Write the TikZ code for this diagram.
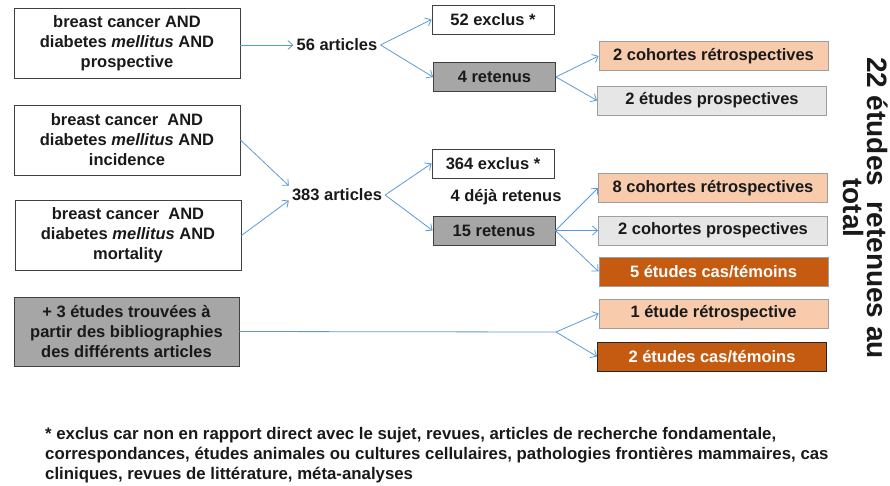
\documentclass[tikz,border=0pt]{standalone}
\usepackage{fontspec}
\setmainfont{Liberation Sans}
\usetikzlibrary{calc, arrows.meta, positioning}
\definecolor{peach}{RGB}{248,203,173}
\definecolor{lightbox}{RGB}{231,230,230}
\definecolor{rust}{RGB}{197,90,17}
\definecolor{midgray}{RGB}{166,166,166}
\definecolor{linkblue}{RGB}{91,155,213}
\definecolor{edge}{RGB}{64,64,64}

\begin{document}
\begin{tikzpicture}[x=1pt,y=-1pt,->,>={Straight Barb[length=5pt,width=9pt]},
every node/.style={font=\fontsize{16.5}{20}\selectfont\bfseries,text=black!90,align=center},
query/.style={draw=edge,line width=0.9pt,minimum width=226pt,minimum height=70pt,inner sep=0pt},
count/.style={inner sep=3pt},
result/.style={draw=edge,line width=0.9pt,minimum width=122pt,minimum height=29pt,inner sep=0pt},
kind/.style={draw=gray!75,line width=0.9pt,minimum width=229pt,minimum height=29pt,inner sep=0pt},
link/.style={draw=linkblue,line width=0.8pt}
]
\useasboundingbox (0,0) rectangle (890,485);

\node[query] (nProsp) at (127,43) {breast cancer AND\\ diabetes \textit{mellitus} AND\\ prospective};
\node[query] (nIncid) at (127,140) {breast cancer\ \ AND\\ diabetes \textit{mellitus} AND\\ incidence};
\node[query] (nMort) at (128,235.5) {breast cancer\ \ AND\\ diabetes \textit{mellitus} AND\\ mortality};
\node[query,fill=midgray,minimum width=225pt,minimum height=69pt] (nBiblio) at (126.5,331.5) {+ 3 études trouvées à\\ partir des bibliographies\\ des différents articles};

\node[count] (nA56) at (337,45) {56 articles};
\node[count] (nA383) at (337,195) {383 articles};

\node[result] (nEx52) at (493,19.5) {52 exclus *};
\node[result,fill=midgray] (nRet4) at (494.5,77) {4 retenus};
\node[result] (nEx364) at (493,163.5) {364 exclus *};
\node[count] (nDeja) at (506,197) {4 déjà retenus};
\node[result,fill=midgray] (nRet15) at (494,230.5) {15 retenus};

\node[kind,fill=peach] (nR2) at (713.5,56) {2 cohortes rétrospectives};
\node[kind,fill=lightbox] (nP2) at (712,100.5) {2 études prospectives};
\node[kind,fill=peach] (nR8) at (713,188) {8 cohortes rétrospectives};
\node[kind,fill=lightbox] (nP2b) at (713,230.5) {2 cohortes prospectives};
\node[kind,fill=rust,text=white] (nC5) at (713.5,271.5) {5 études cas/témoins};
\node[kind,fill=peach] (nR1) at (713.5,313.5) {1 étude rétrospective};
\node[kind,fill=rust,text=white,draw=black!85] (nC2) at (712,356.5) {2 études cas/témoins};

\node[rotate=-90,font=\fontsize{28}{24}\selectfont\bfseries] (nTotal) at (866,208) {22 études\ \ retenues au\\ total};

\node[anchor=north west,align=left,inner sep=0pt,font=\fontsize{16.8}{20}\selectfont\bfseries] (nNote) at (45,427) {* exclus car non en rapport direct avec le sujet, revues, articles de recherche fondamentale,\\ correspondances, études animales ou cultures cellulaires, pathologies frontières mammaires, cas\\ cliniques, revues de littérature, méta-analyses};

\coordinate (nFork) at (556,332);

\draw[link] (nProsp.east |- nA56.west) -- (nA56.west);
\draw[link] (nIncid.east) -- (nA383.north west);
\draw[link] (nMort.east) -- ($(nA383.west)!0.6!(nA383.south west)$);
\draw[link] (nA56.east) -- (nEx52.west);
\draw[link] (nA56.east) -- (nRet4.west);
\draw[link] (nA383.east) -- (nEx364.west);
\draw[link] (nA383.east) -- (nRet15.west);
\draw[link] (nRet4.east) -- (nR2.west);
\draw[link] (nRet4.east) -- (nP2.west);
\draw[link] (nRet15.east) -- (nR8.west);
\draw[link] (nRet15.east) -- (nP2b.west);
\draw[link] (nRet15.east) -- (nC5.west);
\draw[link,-] (nBiblio.east) -- (nFork);
\draw[link] (nFork) -- (nR1.west);
\draw[link] (nFork) -- (nC2.west);
\end{tikzpicture}
\end{document}
